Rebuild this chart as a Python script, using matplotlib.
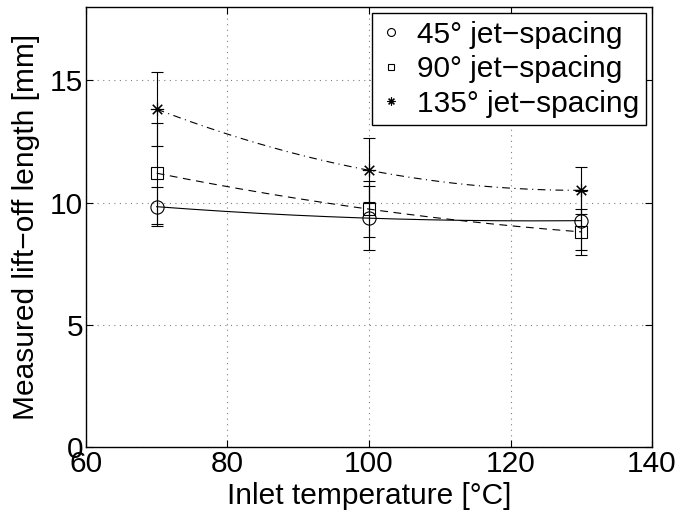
import numpy as np
from matplotlib import pyplot as plt

plt.rcParams['font.family'] = ['Liberation Sans', 'DejaVu Sans']

temps = [70, 100, 130]

lift_45 = [9.83, 9.36, 9.26]
err_45 = [0.8, 1.3, 1.2]

lift_90 = [11.2, 9.73, 8.8]
err_90 = [2.07, 1.14, 0.95]

lift_135 = [13.82, 11.32, 10.5]
err_135 = [1.5, 1.3, 0.95]

series = [
    (lift_45, err_45, 'o', '-', '45° jet\u2212spacing'),
    (lift_90, err_90, 's', (0, (7, 5)), '90° jet\u2212spacing'),
    (lift_135, err_135, (8, 2, 0), (0, (7, 4, 1, 4)), '135° jet\u2212spacing'),
]

fig = plt.figure(figsize=(6.78, 5.13), dpi=100)
ax = fig.add_axes([0.1268, 0.1287, 0.8349, 0.8577])

t_fit = np.linspace(temps[0], temps[-1], 200)
handles = []
for vals, errs, mk, ls, lab in series:
    coef = np.polyfit(temps, vals, 2)
    ax.plot(t_fit, np.polyval(coef, t_fit), color='k', ls=ls, lw=0.8)
    ax.errorbar(temps, vals, yerr=errs, fmt='none', ecolor='k',
                elinewidth=0.8, capsize=4.5, capthick=0.8)
    h, = ax.plot(temps, vals, ls='none', marker=mk, mfc='none', mec='k',
                 ms=9.5 if mk != 's' else 8, mew=0.8, label=lab)
    handles.append(h)

ax.set_xlim([60, 140])
ax.set_ylim([0, 18])
ax.set_xticks([60, 80, 100, 120, 140])
ax.set_yticks([0, 5, 10, 15])
ax.grid(True, ls=(0, (1, 4)), color='0.5', lw=0.8)
ax.tick_params(direction='in', top=True, right=True, labelsize=21.5,
               length=5, width=0.8, pad=2)
for s in ax.spines.values():
    s.set_linewidth(1.0)

ax.set_xlabel('Inlet temperature [°C]', fontsize=21.5, labelpad=3)
ax.set_ylabel('Measured lift\u2212off length [mm]', fontsize=21.5, labelpad=7)

leg = ax.legend(handles=handles, loc='upper right', fontsize=21.5,
                frameon=True, fancybox=False, edgecolor='k', framealpha=1,
                handlelength=0.8, handletextpad=0.45, borderpad=0.25,
                labelspacing=0.22, markerscale=0.6, borderaxespad=0,
                bbox_to_anchor=(0.99, 0.986))
leg.get_frame().set_linewidth(1.0)

plt.savefig('out.png', dpi=100)
